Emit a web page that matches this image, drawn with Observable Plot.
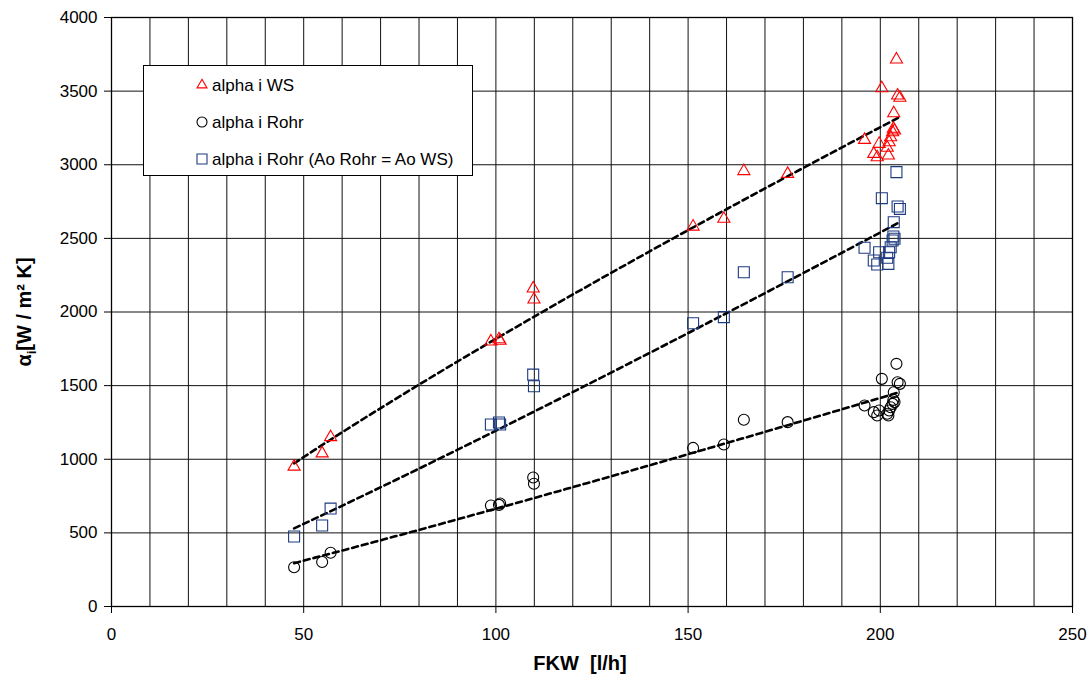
<!DOCTYPE html>
<html>
<head>
<meta charset="utf-8">
<script src="https://cdn.jsdelivr.net/npm/d3@7"></script>
<script src="https://cdn.jsdelivr.net/npm/@observablehq/plot@0.6"></script>
<style>
  html, body { margin: 0; padding: 0; background: white; }
  #chart { position: relative; width: 1091px; height: 679px; }
</style>
</head>
<body>
<div id="chart"></div>
<script>
// FKW flow [l/h] (shared x for all three series)
const fkw = [47.5, 54.8, 57.0, 98.7, 100.8, 101.1, 109.7, 109.9, 151.3, 159.3, 164.5, 175.9,
  195.9, 198.3, 199.2, 199.7, 200.4, 201.8, 202.1, 202.3, 202.7, 203.2, 203.4, 203.7, 203.5, 204.2, 204.5, 205.1];
// alpha i WS
const alphaWS = [950, 1040, 1150, 1800, 1815, 1805, 2160, 2085, 2580, 2633, 2957, 2938,
  3169, 3074, 3051, 3142, 3520, 3115, 3063, 3153, 3187, 3221, 3244, 3233, 3350, 3715, 3470, 3455];
// alpha i Rohr
const alphaRohr = [267, 302, 365, 686, 690, 700, 876, 834, 1077, 1100, 1268, 1252,
  1365, 1320, 1297, 1331, 1546, 1309, 1297, 1331, 1353, 1376, 1403, 1388, 1455, 1648, 1523, 1512];
// alpha i Rohr (Ao Rohr = Ao WS)
const alphaRohrAo = [475, 550, 665, 1236, 1250, 1236, 1575, 1496, 1924, 1965, 2270, 2236,
  2436, 2350, 2323, 2406, 2773, 2368, 2327, 2406, 2440, 2486, 2513, 2497, 2610, 2950, 2716, 2700];

const xTicks = [0, 50, 100, 150, 200, 250];
const xGrid = d3.range(0, 251, 10);
const yTicks = [0, 500, 1000, 1500, 2000, 2500, 3000, 3500, 4000];
const legendLabels = ["alpha i WS", "alpha i Rohr", "alpha i Rohr (Ao Rohr = Ao WS)"];

const red = "#ff0000", navy = "#1c3a80", black = "#000000";

const ws = fkw.map((x, i) => ({x, y: alphaWS[i]}));
const rohr = fkw.map((x, i) => ({x, y: alphaRohr[i]}));
const rohrAo = fkw.map((x, i) => ({x, y: alphaRohrAo[i]}));

// Power trendline (Excel-style: least squares on ln x, ln y), sampled between min and max x
function powerTrend(pts) {
  const lx = pts.map(p => Math.log(p.x)), ly = pts.map(p => Math.log(p.y));
  const mx = d3.mean(lx), my = d3.mean(ly);
  const b = d3.sum(lx, (v, i) => (v - mx) * (ly[i] - my)) / d3.sum(lx, v => (v - mx) ** 2);
  const a = Math.exp(my - b * mx);
  const [x0, x1] = d3.extent(pts, p => p.x);
  return d3.range(0, 61).map(k => { const x = x0 + (x1 - x0) * k / 60; return {x, y: a * Math.pow(x, b)}; });
}

const font = "'Liberation Sans', Arial, sans-serif";
const dash = {x: "x", y: "y", stroke: black, strokeWidth: 2.6, strokeDasharray: "6,4"};

const plot = Plot.plot({
  width: 1091,
  height: 679,
  marginLeft: 111,
  marginRight: 19,
  marginTop: 17,
  marginBottom: 73,
  style: {fontSize: "17px", fontFamily: font, background: "white", color: "black"},
  x: {domain: [0, 250]},
  y: {domain: [0, 4000]},
  marks: [
    Plot.gridX(xGrid, {stroke: "#111", strokeOpacity: 1, strokeWidth: 1}),
    Plot.gridY(yTicks, {stroke: "#111", strokeOpacity: 1, strokeWidth: 1}),
    Plot.axisX(xTicks, {tickSize: 7, tickPadding: 14, label: null, stroke: "#000", tickFormat: d => String(d)}),
    Plot.axisY(yTicks, {tickSize: 7, tickPadding: 7, label: null, stroke: "#000", tickFormat: d => String(d)}),
    Plot.frame({stroke: "#000", strokeWidth: 1.3}),
    Plot.line(powerTrend(ws), dash),
    Plot.line(powerTrend(rohrAo), dash),
    Plot.line(powerTrend(rohr), dash),
    Plot.dot(ws, {x: "x", y: "y", symbol: "triangle", r: 4.5, stroke: red, strokeWidth: 1.1, fill: "none"}),
    Plot.dot(rohr, {x: "x", y: "y", symbol: "circle", r: 5.5, stroke: black, strokeWidth: 1.1, fill: "none"}),
    Plot.dot(rohrAo, {x: "x", y: "y", symbol: "square", r: 6.2, stroke: navy, strokeWidth: 1.1, fill: "none"})
  ]
});

const svg = d3.select(plot);

// y-axis label: alpha_i [W / m² K]
const yl = svg.append("text")
  .attr("transform", "translate(31,312) rotate(-90)")
  .attr("text-anchor", "middle")
  .attr("font-family", font)
  .attr("font-weight", "bold")
  .attr("font-size", 20)
  .attr("fill", "black");
yl.append("tspan").text("α");
yl.append("tspan").attr("font-size", 13).attr("dy", 5).text("i");
yl.append("tspan").attr("dy", -5).text("[W / m² K]");

// x-axis label
svg.append("text")
  .attr("x", 580).attr("y", 670)
  .attr("text-anchor", "middle")
  .attr("font-family", font)
  .attr("font-weight", "bold")
  .attr("font-size", 20)
  .attr("fill", "black")
  .style("white-space", "pre")
  .text("FKW  [l/h]");

// legend box
const lg = svg.append("g").attr("text-anchor", "start");
lg.append("rect").attr("x", 143.5).attr("y", 65.5).attr("width", 329).attr("height", 110)
  .attr("fill", "white").attr("stroke", "black").attr("stroke-width", 1);
const legendSymbols = [
  {sym: d3.symbolTriangle, size: 43, color: red},
  {sym: d3.symbolCircle, size: Math.PI * 25, color: black},
  {sym: d3.symbolSquare, size: 100, color: navy}
];
legendLabels.forEach((t, i) => {
  const cy = 85 + i * 37;
  lg.append("path")
    .attr("transform", `translate(202,${cy})`)
    .attr("d", d3.symbol(legendSymbols[i].sym, legendSymbols[i].size)())
    .attr("fill", "none").attr("stroke", legendSymbols[i].color).attr("stroke-width", 1.1);
  lg.append("text").attr("x", 212).attr("y", cy + 6).attr("text-anchor", "start")
    .attr("font-family", font).attr("font-size", 17).attr("fill", "black").text(t);
});

document.getElementById("chart").appendChild(plot);
</script>
</body>
</html>
